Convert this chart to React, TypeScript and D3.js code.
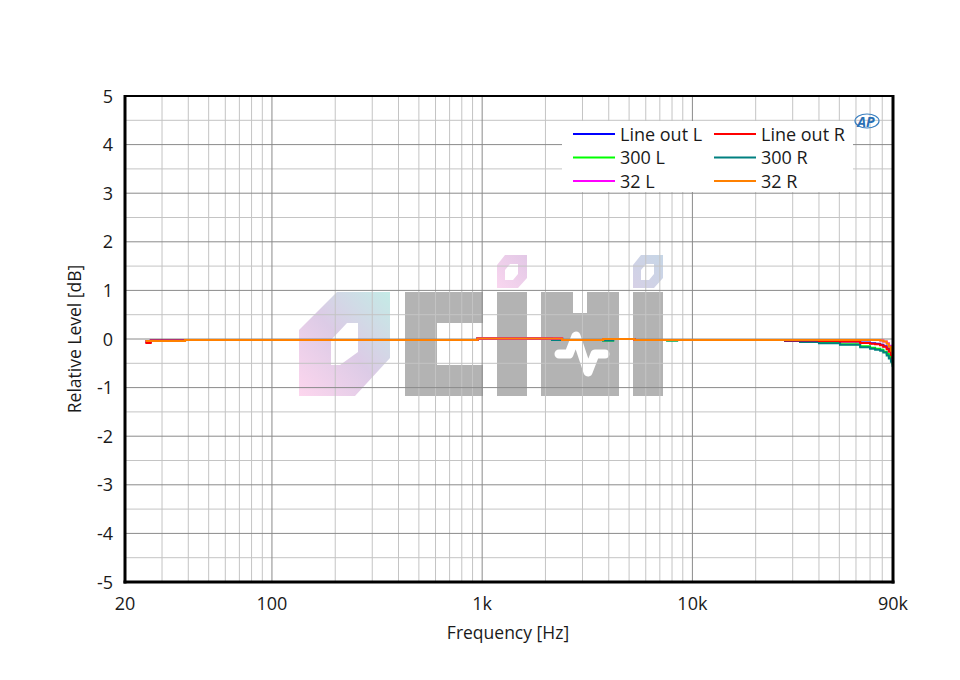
import React from "react";
import * as d3 from "d3";

const freqs = [25, 26.5, 31, 38.6, 50, 100, 200, 500, 950, 2150, 2400, 3760, 4200, 5300, 7580, 8460, 10000, 15000, 20000, 27600, 32500, 40000, 50400, 62800, 70000, 74000, 78200, 81000, 84000, 86000, 88000, 89500, 90000];

const lineOutL = [-0.06, -0.03, -0.03, -0.02, -0.02, -0.02, -0.02, -0.02, 0.01, 0.01, -0.02, 0.0, 0.0, -0.02, -0.02, -0.02, -0.02, -0.02, -0.02, -0.03, -0.03, -0.04, -0.05, -0.07, -0.09, -0.1, -0.12, -0.15, -0.19, -0.24, -0.3, -0.37, -0.42];
const lineOutR = [-0.08, -0.03, -0.03, -0.02, -0.02, -0.02, -0.02, -0.02, 0.01, 0.01, -0.02, 0.0, 0.0, -0.02, -0.02, -0.02, -0.02, -0.02, -0.02, -0.03, -0.03, -0.04, -0.05, -0.08, -0.1, -0.11, -0.13, -0.16, -0.21, -0.26, -0.33, -0.4, -0.45];
const s300L = [-0.04, -0.04, -0.04, -0.02, -0.02, -0.02, -0.02, -0.02, 0.01, -0.02, -0.02, -0.03, 0.0, -0.02, -0.03, -0.02, -0.02, -0.02, -0.02, -0.03, -0.05, -0.08, -0.11, -0.15, -0.18, -0.2, -0.22, -0.26, -0.31, -0.37, -0.44, -0.51, -0.56];
const s300R = [-0.04, -0.04, -0.04, -0.02, -0.02, -0.02, -0.02, -0.02, 0.01, -0.02, -0.02, -0.03, 0.0, -0.02, -0.03, -0.02, -0.02, -0.02, -0.02, -0.04, -0.06, -0.09, -0.12, -0.17, -0.2, -0.22, -0.24, -0.28, -0.34, -0.4, -0.47, -0.55, -0.6];
const s32L = [-0.04, -0.04, -0.04, -0.02, -0.02, -0.02, -0.02, -0.02, 0.01, 0.01, -0.02, 0.0, 0.0, -0.02, -0.02, -0.02, -0.02, -0.02, -0.02, -0.02, -0.02, -0.02, -0.02, -0.02, -0.02, -0.02, -0.03, -0.05, -0.09, -0.14, -0.2, -0.28, -0.35];
const s32R = [-0.04, -0.04, -0.04, -0.02, -0.02, -0.02, -0.02, -0.02, 0.01, 0.01, -0.02, 0.0, 0.0, -0.02, -0.02, -0.02, -0.02, -0.02, -0.02, -0.02, -0.02, -0.02, -0.02, -0.02, -0.02, -0.02, -0.03, -0.05, -0.1, -0.16, -0.24, -0.32, -0.37];

const seriesNames = ["Line out L", "Line out R", "300 L", "300 R", "32 L", "32 R"];
const seriesColors = ["#0000ff", "#ff0000", "#00ff00", "#008080", "#ff00ff", "#ff8000"];
const seriesValues = [lineOutL, lineOutR, s300L, s300R, s32L, s32R];
const drawOrder = [2, 3, 0, 1, 4, 5];

const xTickValues = [20, 100, 1000, 10000, 90000];
const xTickLabels = ["20", "100", "1k", "10k", "90k"];
const yTickValues = [5, 4, 3, 2, 1, 0, -1, -2, -3, -4, -5];

const W = 960, H = 680;
const L = 125, R = 893, T = 96, B = 582;

export default function App() {
  const x = d3.scaleLog().domain([20, 90000]).range([L, R]);
  const y = d3.scaleLinear().domain([-5, 5]).range([B, T]);
  const font = "'Open Sans', 'Noto Sans', sans-serif";

  const minorX: number[] = [];
  const majorX: number[] = [];
  [10, 100, 1000, 10000].forEach((dec) => {
    for (let k = 1; k <= 9; k++) {
      const f = dec * k;
      if (f <= 20 || f >= 90000) continue;
      if (k === 1) majorX.push(f);
      else minorX.push(f);
    }
  });
  const majorY = d3.range(-4, 5, 1);
  const minorY = d3.range(-4.5, 5, 1);

  const line = d3
    .line<number>()
    .x((_, i) => x(freqs[i]))
    .y((v) => y(v))
    .curve(d3.curveStepAfter);

  const legendRows = [
    [0, 1],
    [2, 3],
    [4, 5],
  ];

  return (
    <svg width={W} height={H} style={{ position: "absolute", left: 0, top: 0 }} fontFamily={font}>
      <defs>
        <linearGradient id="gO" x1="1" y1="0" x2="0" y2="1">
          <stop offset="0" stopColor="#c4ebe6" />
          <stop offset="0.5" stopColor="#dccbe6" />
          <stop offset="1" stopColor="#fdd6ee" />
        </linearGradient>
        <linearGradient id="gI" x1="1" y1="0" x2="0" y2="1">
          <stop offset="0" stopColor="#e2c8e6" />
          <stop offset="1" stopColor="#f9d6ef" />
        </linearGradient>
        <linearGradient id="gI2" x1="1" y1="0" x2="0" y2="1">
          <stop offset="0" stopColor="#c6d6e6" />
          <stop offset="1" stopColor="#d6d0e6" />
        </linearGradient>
      </defs>
      <rect x={0} y={0} width={W} height={H} fill="#fff" />

      {/* watermark */}
      <g>
        <path
          d="M337,292 L390,292 L390,358 L355,396 L299,396 L299,330 Z M347,323 L331,340 L331,365 L340,365 L358,352 L358,323 Z"
          fill="url(#gO)"
          fillRule="evenodd"
        />
        <path d="M405,292 L483,292 L483,323 L437,323 L437,365 L483,365 L483,396 L405,396 Z" fill="#b3b3b3" />
        <rect x={497} y={292} width={30} height={104} fill="#b3b3b3" />
        <path d="M505,255 L527,255 L527,278 L518,288 L497,288 L497,265 Z M510,264 L505,270 L505,280 L513,280 L518,274 L518,264 Z" fill="url(#gI)" fillRule="evenodd" />
        <path d="M541,292 L573,292 L573,313 L587,313 L587,292 L619,292 L619,396 L541,396 Z" fill="#b3b3b3" />
        <path d="M559,354 L569,354 L576,336 L588,372 L595,354 L605,354" fill="none" stroke="#fff" strokeWidth={9} strokeLinecap="round" strokeLinejoin="round" />
        <rect x={633} y={292} width={30} height={104} fill="#b3b3b3" />
        <path d="M641,255 L663,255 L663,278 L654,288 L633,288 L633,265 Z M646,264 L641,270 L641,280 L649,280 L654,274 L654,264 Z" fill="url(#gI2)" fillRule="evenodd" />
      </g>

      {/* grid */}
      <g>
        {minorY.map((v) => (
          <line key={"my" + v} x1={L} x2={R} y1={y(v)} y2={y(v)} stroke="#c4c4c4" strokeWidth={1} />
        ))}
        {minorX.map((f) => (
          <line key={"mx" + f} x1={x(f)} x2={x(f)} y1={T} y2={B} stroke="#c4c4c4" strokeWidth={1} />
        ))}
        {majorY.map((v) => (
          <line key={"My" + v} x1={L} x2={R} y1={y(v)} y2={y(v)} stroke="#8a8a8a" strokeWidth={1} />
        ))}
        {majorX.map((f) => (
          <line key={"Mx" + f} x1={x(f)} x2={x(f)} y1={T} y2={B} stroke="#8a8a8a" strokeWidth={1} />
        ))}
      </g>

      {/* curves */}
      <g>
        {drawOrder.map((si) => (
          <path key={si} d={line(seriesValues[si]) || ""} fill="none" stroke={seriesColors[si]} strokeWidth={2} />
        ))}
      </g>

      {/* frame */}
      <line x1={L} x2={R} y1={T} y2={T} stroke="#000" strokeWidth={2} />
      <line x1={L} x2={L} y1={T - 1} y2={B + 1.5} stroke="#000" strokeWidth={3} />
      <line x1={R} x2={R} y1={T - 1} y2={B + 1.5} stroke="#000" strokeWidth={3} />
      <line x1={L - 1.5} x2={R + 1.5} y1={B} y2={B} stroke="#000" strokeWidth={3} />

      {/* legend */}
      <rect x={562} y={121} width={291} height={71} fill="#fff" />
      {legendRows.map((row, ri) =>
        row.map((si, ci) => {
          const lx = ci === 0 ? 573 : 714;
          const ly = 134 + ri * 23.5;
          return (
            <g key={si}>
              <line x1={lx} x2={lx + 42} y1={ly} y2={ly} stroke={seriesColors[si]} strokeWidth={2} />
              <text x={lx + 47} y={ly + 6.5} fontSize={18} fill="#1a1a1a">
                {seriesNames[si]}
              </text>
            </g>
          );
        })
      )}

      {/* AP logo */}
      <g>
        <ellipse cx={867} cy={121} rx={12} ry={7} fill="none" stroke="#3a7fc0" strokeWidth={1.2} />
        <text x={866} y={127} fontSize={14} fontStyle="italic" fontWeight="bold" fill="#2a6fb5" textAnchor="middle">
          AP
        </text>
      </g>

      {/* ticks */}
      {yTickValues.map((v) => (
        <text key={"yt" + v} x={113} y={y(v) + 6.5} fontSize={18} textAnchor="end" fill="#1a1a1a">
          {v}
        </text>
      ))}
      {xTickValues.map((f, i) => (
        <text key={"xt" + f} x={x(f)} y={610} fontSize={18} textAnchor="middle" fill="#1a1a1a">
          {xTickLabels[i]}
        </text>
      ))}

      <text x={508} y={639} fontSize={17.5} textAnchor="middle" fill="#1a1a1a">
        Frequency [Hz]
      </text>
      <text transform={`translate(81,${(T + B) / 2}) rotate(-90)`} fontSize={17.5} textAnchor="middle" fill="#1a1a1a">
        Relative Level [dB]
      </text>
    </svg>
  );
}
